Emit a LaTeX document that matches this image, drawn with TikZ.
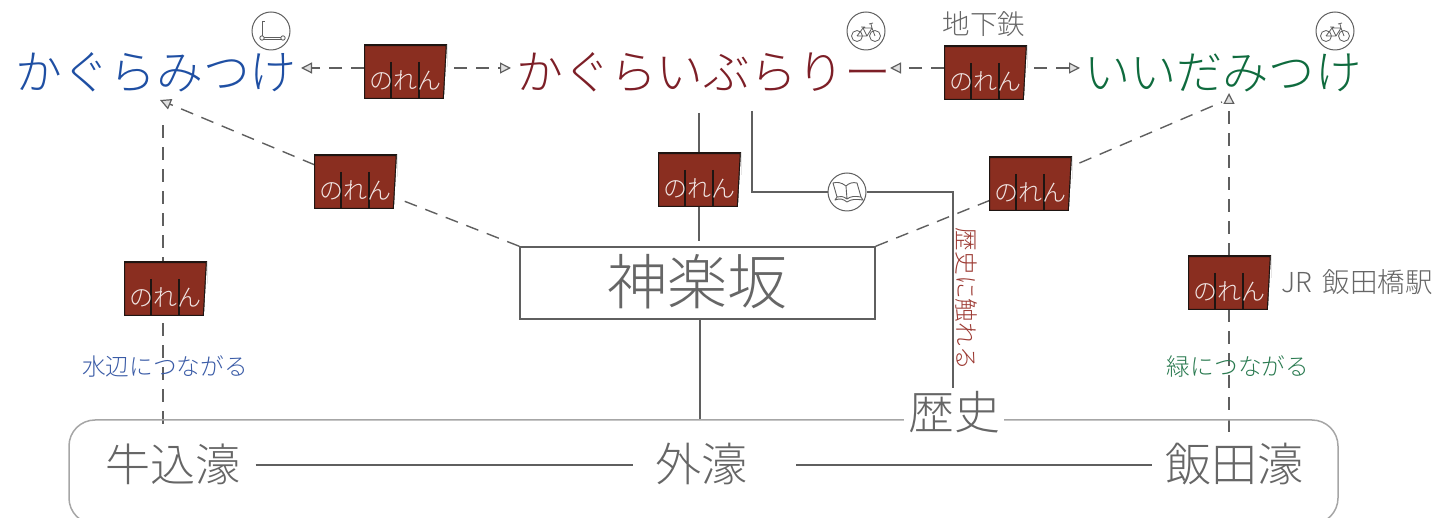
\documentclass[tikz,border=0pt]{standalone}
\usepackage{fontspec}
\usetikzlibrary{arrows.meta,backgrounds,calc}
\setmainfont{Noto Sans CJK JP Light}
\definecolor{inkgray}{HTML}{666666}
\definecolor{linegray}{HTML}{5F5F5F}
\definecolor{boxgray}{HTML}{A6A6A6}
\definecolor{kblue}{HTML}{1F4FA3}
\definecolor{kred}{HTML}{7D1F27}
\definecolor{kgreen}{HTML}{0F6B3E}
\definecolor{lblue}{HTML}{3A5BA6}
\definecolor{lred}{HTML}{9C3A33}
\definecolor{lgreen}{HTML}{2A7A50}
\definecolor{norenred}{HTML}{8A2E20}
\definecolor{noreninkk}{HTML}{1E1512}
\newcommand{\ctext}[3]{\raisebox{#2}[0pt][0pt]{\fontsize{#1}{#1}\selectfont #3}}
\tikzset{
  x=1pt,y=-1pt,
  opentip/.tip={Triangle[open,length=11pt,width=11pt,line width=1.2pt,fill=black!12]},
  plainline/.style={draw=linegray,line width=1.5pt},
  dashline/.style={draw=linegray,line width=1.4pt,dash pattern=on 13pt off 9pt},
  tipline/.style={dashline,-opentip},
  txt/.style={inner sep=0pt,outer sep=0pt,text=inkgray},
  kana/.style={inner sep=0pt,outer sep=0pt,text width=#1,align=center,minimum height=40pt},
  iconring/.style={circle,draw=linegray,line width=1pt,fill=white,minimum size=38pt,inner sep=0pt},
  norenbox/.style={rectangle,minimum width=83pt,minimum height=54pt,inner sep=0pt,outer sep=0pt,text=white!88!norenred,
    path picture={
      \fill[norenred,draw=noreninkk,line width=2.4pt]
        (path picture bounding box.north west) -- (path picture bounding box.north east)
        -- ([xshift=-3pt]path picture bounding box.south east) -- (path picture bounding box.south west) -- cycle;
      \fill[white] (path picture bounding box.north east) -- ([xshift=-3pt]path picture bounding box.south east)
        -- (path picture bounding box.south east) -- cycle;
      \draw[noreninkk,line width=1.4pt]
        ([xshift=27pt,yshift=-17pt]path picture bounding box.north west) -- ([xshift=27pt]path picture bounding box.south west)
        ([xshift=55pt,yshift=-17pt]path picture bounding box.north west) -- ([xshift=55pt]path picture bounding box.south west);
    }},
  bikeicon/.pic={
    \draw[linegray,line width=.8pt] (-9,5) circle (5.5) (9,5) circle (5.5)
      (-9,5) -- (-3,-3) -- (6,-3) -- (9,5) (-9,5) -- (1,5) -- (6,-3) (-3,-3) -- (1,5)
      (-5,-4) -- (-1,-4) (5,-7) -- (6,-3) (3,-7) -- (7,-8);
  },
  scootericon/.pic={
    \draw[linegray,line width=.9pt] (-9,-10) -- (-6,-10) (-9,-10) -- (-9,6) (-9,6) -- (12,6) (-9,8) -- (12,8);
    \draw[linegray,line width=.8pt,fill=white] (-9,7) circle (2.2) (12,7) circle (2.2);
  },
  bookicon/.pic={
    \draw[linegray,line width=.9pt,line join=round]
      (-1,-6) .. controls (-6,-10) and (-10,-10) .. (-14,-9) -- (-10,5) .. controls (-7,4) and (-4,4) .. (0,7)
      .. controls (4,4) and (8,4) .. (14,5) -- (10,-9) .. controls (6,-10) and (2,-9) .. (-1,-6) -- (0,7)
      (-10,5) -- (-12,8) .. controls (-7,6) and (-4,7) .. (0,10) .. controls (4,7) and (9,7) .. (16,8) -- (14,5);
  }
}
\begin{document}
\begin{tikzpicture}
\useasboundingbox (0,0) rectangle (1436,518);
\clip (0,0) rectangle (1436,518);

% moat frame
\draw[boxgray,line width=1.5pt,rounded corners=26pt] (69,420) rectangle (1338,524);

% stations (text lowered so that the node centres sit at the connector height y=68)
\node[kana=275pt] (kagura) at (153.5,68) {\ctext{46.8pt}{-22pt}{\color{kblue}かぐらみつけ}};
\node[kana=366pt] (burari) at (699.5,68) {\ctext{46.8pt}{-22pt}{\color{kred}かぐらいぶらりー}};
\node[kana=272pt] (iida) at (1220,68) {\ctext{46.2pt}{-22pt}{\color{kgreen}いいだみつけ}};

% centre box
\node[rectangle,draw=linegray,line width=1.5pt,minimum width=355pt,minimum height=72pt,inner sep=0pt,text=inkgray] (shin) at (697.5,283)
  {\ctext{60pt}{-22pt}{神楽坂}};

% moats
\node[txt] (ushi) at (173,466) {\ctext{45pt}{-16pt}{牛込濠}};
\node[txt] (soto) at (701,466) {\ctext{46pt}{-16pt}{外濠}};
\node[txt] (iidabori) at (1234,466) {\ctext{46pt}{-16pt}{飯田濠}};
\node[txt,fill=white,minimum width=100pt,minimum height=40pt] (reki) at (954,414) {\ctext{46pt}{-16pt}{歴史}};

% noren
\node[norenbox] (n1) at (405.5,72) {\ctext{24pt}{-18pt}{のれん}};
\node[norenbox] (n2) at (985.5,73) {\ctext{24pt}{-18pt}{のれん}};
\node[norenbox] (n3) at (355.5,182) {\ctext{24pt}{-18pt}{のれん}};
\node[norenbox] (n4) at (699.5,180) {\ctext{24pt}{-18pt}{のれん}};
\node[norenbox] (n5) at (1030.5,184) {\ctext{24pt}{-18pt}{のれん}};
\node[norenbox] (n6) at (165.5,289) {\ctext{24pt}{-18pt}{のれん}};
\node[norenbox] (n7) at (1229.5,283) {\ctext{24pt}{-18pt}{のれん}};

% text labels
\node[txt] (chika) at (984,25) {\ctext{27.5pt}{-10pt}{地下鉄}};
\node[txt,anchor=west] (jr) at (1281,283) {\ctext{27.5pt}{-9.5pt}{JR\hspace{5pt} 飯田橋駅}};
\node[txt,text=lblue] (mizu) at (165,367) {\ctext{23.7pt}{-8.5pt}{水辺につながる}};
\node[txt,text=lgreen] (mido) at (1238,367) {\ctext{23.7pt}{-8.5pt}{緑につながる}};
\node[txt,text=lred,rotate=-90] (fure) at (966,299) {\ctext{23.7pt}{-8.5pt}{歴史に触れる}};

% icons
\node[iconring] (scoot) at (271,31) {};
\node[iconring] (bike1) at (866,31) {};
\node[iconring] (bike2) at (1335,31) {};
\pic at (scoot) {scootericon};
\pic at (bike1) {bikeicon};
\pic at (bike2) {bikeicon};

\coordinate (tipA) at (160,100);
\coordinate (endA) at (163,118);
\coordinate (footA) at (163,424);
\coordinate (tipB) at (1229,93);
\coordinate (footB) at (1229,432);
\coordinate (endB) at (1222,102);
\coordinate (spurTop) at (752,111);
\coordinate (spurCorner) at (953,192);
\coordinate (midTop) at (699,113);
\coordinate (midFoot) at (700,420);

\node[iconring] (book) at (847,192) {};
\pic at (book) {bookicon};

\begin{scope}[on background layer]
  % top row
  \draw[tipline] (n1.west |- kagura.east) -- ([xshift=10pt]kagura.east);
  \draw[tipline,shorten <=7pt] (n1.east |- burari.west) -- ([xshift=-5.5pt]burari.west);
  \draw[tipline] (n2.west |- burari.east) -- ([xshift=7.5pt]burari.east);
  \draw[tipline,shorten <=7pt] (n2.east |- iida.west) -- ([xshift=-4pt]iida.west);
  % diagonals and verticals
  \draw[tipline] (shin.north west) -- (n3.center) -- (tipA);
  \draw[dashline] (footA) -- (endA |- n6) -- (endA);
  \draw[dashline] (shin.north east) -- (n5.center) -- (endB);
  \draw[tipline] (footB) -- (tipB |- n7) -- (tipB);
  % solid
  \draw[plainline,shorten >=5pt] (midTop) -- (midTop |- n4) -- (midTop |- shin.north);
  \draw[plainline] (shin.south -| midFoot) -- (midFoot);
  \draw[plainline] (spurTop) |- (book);
  \draw[plainline] (book) -| (spurCorner) -- ($(reki.north -| spurCorner)+(0,-6)$);
  \draw[plainline] ($(ushi.east)+(15,-1)$) -- ($(soto.west)+(-22,-1)$);
  \draw[plainline] ($(soto.east)+(49,-1)$) -- ($(iidabori.west)+(-13,-1)$);
\end{scope}
\end{tikzpicture}
\end{document}
